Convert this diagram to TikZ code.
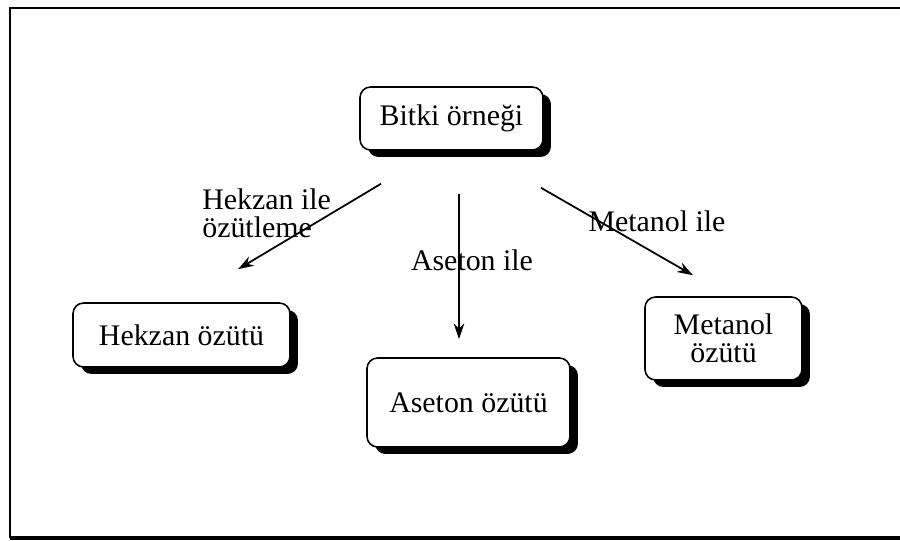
\documentclass[tikz,border=0pt]{standalone}
\usepackage{fontspec}
\setmainfont{Liberation Serif}
\usetikzlibrary{positioning,arrows.meta,calc,shadows}

\begin{document}
\begin{tikzpicture}[
    x=0.02cm, y=-0.02cm,
    box/.style={draw, line width=0.9pt, rounded corners=6pt, fill=white, inner sep=0pt, align=center,
      font=\fontsize{17}{16}\selectfont,
      drop shadow={shadow xshift=0.16cm, shadow yshift=-0.14cm, fill=black, opacity=1}},
    lbl/.style={inner sep=0pt, align=left, font=\fontsize{17}{16}\selectfont},
    arr/.style={-{Stealth[length=9pt, width=6pt]}, line width=1pt}
  ]
    \useasboundingbox (0,0) rectangle (900,541);
    % frame
    \draw[line width=1.2pt] (900,8) -- (10,8) -- (10,538);
    \draw[line width=1.8pt] (10,538) -- (900,538);

    \node[box, minimum width=3.66cm, minimum height=1.26cm] (bitki) at (451.5,118.5) {Bitki örneği};
    \node[box, minimum width=4.34cm, minimum height=1.28cm] (hekzan) at (181.5,335) {Hekzan özütü};
    \node[box, minimum width=4.06cm, minimum height=1.78cm] (aseton) at (468.5,402.5) {Aseton özütü};
    \node[box, minimum width=3.14cm, minimum height=1.66cm] (metanol) at (723.5,338.5) {Metanol\\özütü};

    \draw[arr] ($(bitki.south)+(-70.5,33)$) -- ($(hekzan.north)+(56.5,-33)$);
    \draw[arr] ($(bitki.south)+(7.5,43)$) -- ($(aseton.north)+(-9.5,-18)$);
    \draw[arr] ($(bitki.south)+(89.5,37)$) -- ($(metanol.north)+(-30.5,-21)$);

    \node[lbl, anchor=north west] (hekzanlbl) at (202,188) {Hekzan ile\\özütleme};
    \node[lbl] (asetonlbl) at (472,260) {Aseton ile};
    \node[lbl] (metanollbl) at (657,221) {Metanol ile};
  \end{tikzpicture}
\end{document}
